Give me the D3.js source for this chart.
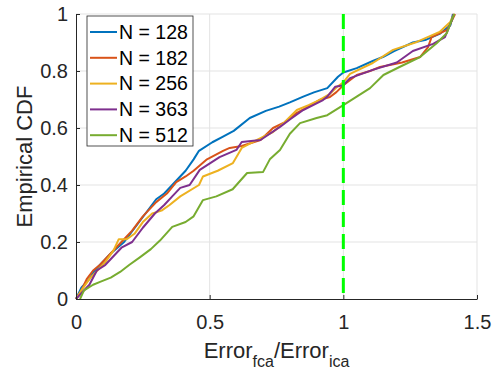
<!DOCTYPE html>
<html>
<head>
<meta charset="utf-8">
<script src="https://cdn.jsdelivr.net/npm/d3@7"></script>
<style>
  body { margin: 0; background: #fff; }
  svg { display: block; font-family: "Liberation Sans", Arial, Helvetica, sans-serif; }
</style>
</head>
<body>
<div id="main"></div>
<script>
// series names and MATLAB default colours
var series_names = ["N = 128", "N = 182", "N = 256", "N = 363", "N = 512"];
var series_colors = ["#0072BD", "#D95319", "#EDB120", "#7E2F8E", "#77AC30"];

// values: x = Error_fca/Error_ica, y = empirical CDF
var x_128 = [0, 0.02, 0.05, 0.07, 0.10, 0.13, 0.18, 0.22, 0.26, 0.30, 0.33, 0.36, 0.41, 0.44, 0.46, 0.51, 0.55, 0.59, 0.65, 0.71, 0.76, 0.80, 0.85, 0.89, 0.94, 0.98, 1.00, 1.05, 1.11, 1.15, 1.19, 1.26, 1.31, 1.36, 1.40, 1.41];
var y_128 = [0, 0.04, 0.07, 0.10, 0.13, 0.16, 0.20, 0.25, 0.30, 0.35, 0.37, 0.40, 0.45, 0.49, 0.52, 0.55, 0.57, 0.59, 0.635, 0.66, 0.675, 0.69, 0.71, 0.725, 0.74, 0.78, 0.795, 0.81, 0.835, 0.85, 0.87, 0.90, 0.91, 0.93, 0.96, 1.0];

var x_182 = [0, 0.02, 0.04, 0.064, 0.09, 0.12, 0.17, 0.21, 0.25, 0.30, 0.34, 0.375, 0.41, 0.44, 0.49, 0.55, 0.575, 0.62, 0.69, 0.737, 0.78, 0.826, 0.87, 0.91, 0.95, 0.974, 1.0, 1.05, 1.10, 1.137, 1.22, 1.287, 1.317, 1.33, 1.388, 1.418];
var y_182 = [0, 0.03, 0.07, 0.10, 0.12, 0.15, 0.20, 0.24, 0.29, 0.34, 0.37, 0.41, 0.43, 0.45, 0.49, 0.52, 0.53, 0.537, 0.558, 0.60, 0.62, 0.653, 0.675, 0.698, 0.709, 0.726, 0.75, 0.786, 0.80, 0.814, 0.83, 0.849, 0.884, 0.919, 0.944, 1.0];

var x_256 = [0, 0.02, 0.05, 0.08, 0.11, 0.14, 0.16, 0.19, 0.22, 0.25, 0.285, 0.32, 0.35, 0.39, 0.46, 0.475, 0.53, 0.587, 0.62, 0.677, 0.737, 0.78, 0.826, 0.87, 0.91, 0.95, 0.976, 1.0, 1.025, 1.11, 1.186, 1.275, 1.36, 1.40, 1.414];
var y_256 = [0, 0.03, 0.07, 0.10, 0.13, 0.17, 0.21, 0.21, 0.23, 0.27, 0.30, 0.31, 0.33, 0.36, 0.40, 0.43, 0.45, 0.477, 0.53, 0.558, 0.586, 0.62, 0.663, 0.68, 0.698, 0.72, 0.744, 0.76, 0.79, 0.828, 0.874, 0.902, 0.937, 0.972, 1.0];

var x_363 = [0, 0.02, 0.05, 0.078, 0.11, 0.14, 0.17, 0.21, 0.25, 0.295, 0.33, 0.36, 0.39, 0.425, 0.463, 0.537, 0.60, 0.62, 0.69, 0.763, 0.80, 0.85, 0.924, 0.94, 0.97, 1.0, 1.025, 1.11, 1.2, 1.26, 1.336, 1.38, 1.407, 1.412];
var y_363 = [0, 0.02, 0.05, 0.10, 0.12, 0.15, 0.18, 0.20, 0.25, 0.30, 0.33, 0.36, 0.39, 0.40, 0.453, 0.498, 0.523, 0.551, 0.558, 0.604, 0.63, 0.663, 0.698, 0.71, 0.745, 0.75, 0.775, 0.804, 0.83, 0.87, 0.895, 0.919, 0.98, 1.0];

var x_512 = [0.015, 0.03, 0.064, 0.09, 0.13, 0.165, 0.20, 0.24, 0.28, 0.314, 0.36, 0.41, 0.44, 0.475, 0.525, 0.586, 0.64, 0.70, 0.725, 0.763, 0.80, 0.838, 0.90, 0.94, 1.0, 1.05, 1.10, 1.15, 1.21, 1.287, 1.35, 1.387, 1.41, 1.415];
var y_512 = [0, 0.03, 0.05, 0.06, 0.075, 0.095, 0.12, 0.147, 0.175, 0.205, 0.253, 0.27, 0.29, 0.347, 0.36, 0.385, 0.442, 0.446, 0.49, 0.523, 0.58, 0.617, 0.635, 0.645, 0.68, 0.71, 0.74, 0.786, 0.814, 0.849, 0.898, 0.933, 0.99, 1.0];

var x_ticks = [0, 0.5, 1, 1.5];
var y_ticks = [0, 0.2, 0.4, 0.6, 0.8, 1];
var ref_x = 1;

var series_x = [x_128, x_182, x_256, x_363, x_512];
var series_y = [y_128, y_182, y_256, y_363, y_512];

var chart_w = 498, chart_h = 375;
var plot_l = 76, plot_r = 477, plot_t = 14, plot_b = 299;
var text_color = "#262626";

var x = d3.scaleLinear().domain([0, 1.5]).range([plot_l, plot_r]);
var y = d3.scaleLinear().domain([0, 1]).range([plot_b, plot_t]);

var svg = d3.select("#main").append("svg")
   .attr("width", chart_w).attr("height", chart_h);
svg.append("rect").attr("width", chart_w).attr("height", chart_h).attr("fill", "#fff");

// grid
svg.append("g").selectAll("line.gx").data(x_ticks.slice(1)).enter().append("line")
   .attr("x1", function(d) { return x(d); }).attr("x2", function(d) { return x(d); })
   .attr("y1", plot_t).attr("y2", plot_b)
   .attr("stroke", "#e3e3e3").attr("stroke-width", 1);
svg.append("g").selectAll("line.gy").data(y_ticks.slice(1)).enter().append("line")
   .attr("x1", plot_l).attr("x2", plot_r)
   .attr("y1", function(d) { return y(d); }).attr("y2", function(d) { return y(d); })
   .attr("stroke", "#e3e3e3").attr("stroke-width", 1);

// curves
var line = d3.line().x(function(d) { return x(d[0]); }).y(function(d) { return y(d[1]); });
series_names.forEach(function(name, i) {
   var pts = series_x[i].map(function(v, j) { return [v, series_y[i][j]]; });
   svg.append("path").datum(pts)
      .attr("d", line)
      .attr("fill", "none")
      .attr("stroke", series_colors[i])
      .attr("stroke-width", 2)
      .attr("stroke-linejoin", "round");
});

// reference line at ratio 1
svg.append("line")
   .attr("x1", x(ref_x)).attr("x2", x(ref_x))
   .attr("y1", y(1)).attr("y2", y(0))
   .attr("stroke", "#00ff00").attr("stroke-width", 3)
   .attr("stroke-dasharray", "15,7");

// axes
var xAxis = d3.axisBottom(x).tickValues(x_ticks).tickFormat(d3.format("")).tickSizeInner(-4).tickSizeOuter(0).tickPadding(16);
var yAxis = d3.axisLeft(y).tickValues(y_ticks).tickFormat(d3.format("")).tickSizeInner(-4).tickSizeOuter(0).tickPadding(8);

var gx = svg.append("g").attr("transform", "translate(0," + plot_b + ")").call(xAxis);
var gy = svg.append("g").attr("transform", "translate(" + plot_l + ",0)").call(yAxis);
[gx, gy].forEach(function(g) {
   g.select(".domain").attr("stroke", text_color).attr("stroke-width", 1);
   g.selectAll(".tick line").attr("stroke", text_color);
   g.selectAll(".tick text").attr("fill", text_color).style("font-size", "20px")
      .style("font-family", "'Liberation Sans', Arial, sans-serif");
});

// axis labels
var xl = svg.append("text")
   .attr("x", (plot_l + plot_r) / 2).attr("y", 358)
   .attr("text-anchor", "middle").attr("fill", text_color)
   .style("font-size", "22px");
xl.append("tspan").text("Error");
xl.append("tspan").text("fca").style("font-size", "16px").attr("dy", 9);
xl.append("tspan").text("/Error").attr("dy", -9);
xl.append("tspan").text("ica").style("font-size", "16px").attr("dy", 9);

svg.append("text")
   .attr("transform", "translate(32," + ((plot_t + plot_b) / 2) + ") rotate(-90)")
   .attr("text-anchor", "middle").attr("fill", text_color)
   .style("font-size", "22px")
   .text("Empirical CDF");

// legend
var legend = svg.append("g").attr("id", "legend");
legend.append("rect")
   .attr("x", 87).attr("y", 16).attr("width", 106).attr("height", 130)
   .attr("fill", "#fff").attr("stroke", text_color).attr("stroke-width", 0.8);
series_names.forEach(function(name, i) {
   var ly = 32 + i * 25.8;
   legend.append("line")
      .attr("x1", 90).attr("x2", 117).attr("y1", ly).attr("y2", ly)
      .attr("stroke", series_colors[i]).attr("stroke-width", 2);
   legend.append("text")
      .attr("x", 119).attr("y", ly).attr("dy", "0.35em")
      .attr("fill", "#000").style("font-size", "19.5px")
      .text(name);
});
</script>
</body>
</html>
